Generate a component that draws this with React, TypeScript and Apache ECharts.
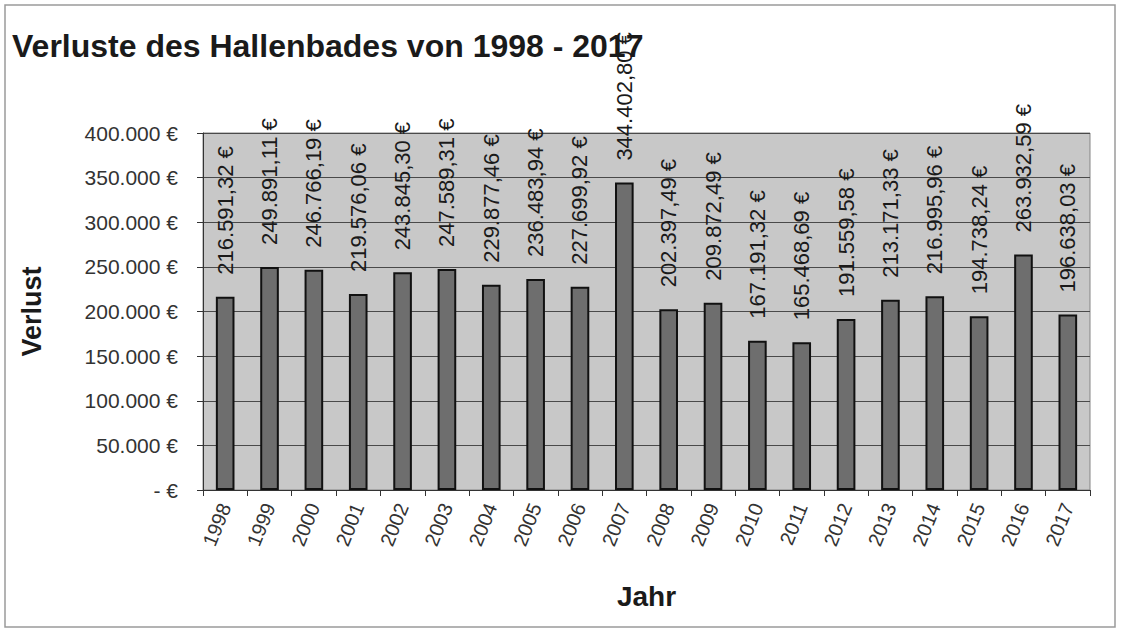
import React, { useEffect, useRef } from "react";
import * as echarts from "echarts";

const years = ["1998","1999","2000","2001","2002","2003","2004","2005","2006","2007","2008","2009","2010","2011","2012","2013","2014","2015","2016","2017"];
const losses = [216591.32,249891.11,246766.19,219576.06,243845.30,247589.31,229877.46,236483.94,227699.92,344402.80,202397.49,209872.49,167191.32,165468.69,191559.58,213171.33,216995.96,194738.24,263932.59,196638.03];
const yTicks = [0, 50000, 100000, 150000, 200000, 250000, 300000, 350000, 400000];

const FONT = "Liberation Sans, Arial, sans-serif";

function groupThousands(n: number): string {
  return String(n).replace(/\B(?=(\d{3})+(?!\d))/g, ".");
}
function euro2(v: number): string {
  const cents = Math.round(v * 100);
  const int = Math.floor(cents / 100);
  const frac = String(cents % 100).padStart(2, "0");
  return groupThousands(int) + "," + frac + " €";
}
function euro0(v: number): string {
  if (v === 0) return "- €";
  return groupThousands(Math.round(v)) + " €";
}

export default function App() {
  const ref = useRef<HTMLDivElement>(null);
  useEffect(() => {
    document.body.style.margin = "0";
    if (!ref.current) return;
    const chart = echarts.init(ref.current, undefined, { renderer: "svg" });
    chart.setOption({
      animation: false,
      backgroundColor: "#ffffff",
      textStyle: { fontFamily: FONT },
      title: {
        text: "Verluste des Hallenbades von 1998 - 2017",
        left: 7,
        top: 25,
        textStyle: { fontFamily: FONT, fontSize: 32, fontWeight: "bold", color: "#1a1a1a" },
      },
      graphic: [
        {
          type: "rect",
          shape: { x: 5, y: 5, width: 1110, height: 622 },
          style: { fill: "none", stroke: "#9a9a9a", lineWidth: 1.5 },
          silent: true,
          z: -1,
        },
      ],
      grid: {
        left: 203,
        right: 32,
        top: 133,
        bottom: 141,
        show: true,
        backgroundColor: "#c8c8c8",
        borderColor: "#858585",
        borderWidth: 1,
      },
      xAxis: {
        type: "category",
        data: years,
        name: "Jahr",
        nameLocation: "middle",
        nameGap: 92,
        nameTextStyle: { fontFamily: FONT, fontSize: 28, fontWeight: "bold", color: "#1a1a1a" },
        axisLine: { show: true, lineStyle: { color: "#333333", width: 1 } },
        axisTick: { show: true, alignWithLabel: false, length: 6, lineStyle: { color: "#333333" } },
        axisLabel: {
          rotate: 68,
          fontFamily: FONT,
          fontSize: 20,
          color: "#333333",
          margin: 14,
        },
      },
      yAxis: {
        type: "value",
        min: 0,
        max: 400000,
        interval: 50000,
        name: "Verlust",
        nameLocation: "middle",
        nameRotate: 90,
        nameGap: 158,
        nameTextStyle: { fontFamily: FONT, fontSize: 27, fontWeight: "bold", color: "#1a1a1a" },
        axisLine: { show: true, lineStyle: { color: "#333333", width: 1 } },
        axisTick: { show: true, length: 6, lineStyle: { color: "#333333" } },
        axisLabel: {
          fontFamily: FONT,
          fontSize: 21,
          color: "#333333",
          margin: 25,
          formatter: (v: number) => (yTicks.includes(v) ? euro0(v) : ""),
        },
        splitLine: { show: true, lineStyle: { color: "#4a4a4a", width: 1 } },
      },
      series: [
        {
          type: "bar",
          data: losses,
          barWidth: "42%",
          itemStyle: { color: "#6e6e6e", borderColor: "#111111", borderWidth: 2 },
          label: {
            show: true,
            position: "top",
            rotate: 90,
            align: "left",
            verticalAlign: "middle",
            distance: 22,
            fontFamily: FONT,
            fontSize: 22,
            color: "#1a1a1a",
            formatter: (p: any) => euro2(p.value),
          },
        },
      ],
    });
    return () => chart.dispose();
  }, []);
  return <div ref={ref} style={{ width: 1122, height: 631 }} />;
}
